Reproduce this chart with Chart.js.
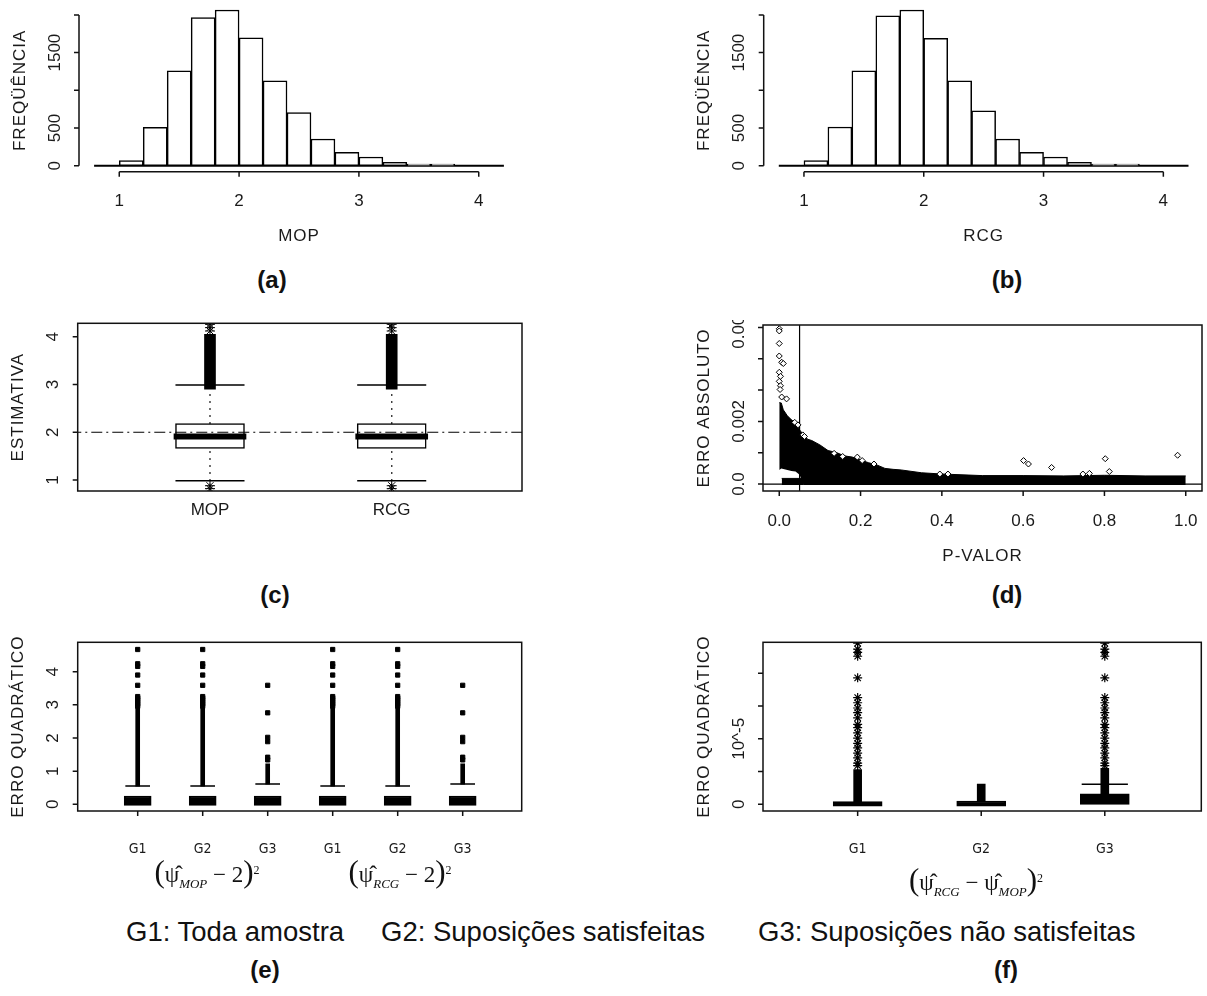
<!DOCTYPE html>
<html>
<head>
<meta charset="utf-8">
<title>MOP x RCG - histogramas, boxplots e erros</title>
<style>
  body { margin: 0; background: #fff; font-family: "Liberation Sans", Arial, sans-serif; color: #111; }
  #fig { position: relative; width: 1207px; height: 996px; overflow: hidden; }
  #fig canvas { position: absolute; }
  .txt { position: absolute; transform: translate(-50%, -50%); white-space: nowrap; }
  .letra { font-weight: bold; font-size: 24px; }
  .eq { font-family: "Liberation Serif", "Times New Roman", serif; font-size: 23px; }
  .eq .par { font-size: 31px; }
  .eq sub { font-size: 13px; font-style: italic; }
  .eq sup { font-size: 12px; }
  .leg { position: absolute; top: 932px; transform: translateY(-50%); font-size: 27.5px; white-space: nowrap; }
</style>
<script src="https://cdn.jsdelivr.net/npm/chart.js@4.4.0/dist/chart.umd.js"></script>
</head>
<body>
<div id="fig">
  <canvas id="ga"></canvas>
  <canvas id="gb"></canvas>
  <canvas id="gc"></canvas>
  <canvas id="gd"></canvas>
  <canvas id="ge"></canvas>
  <canvas id="gf"></canvas>

  <div class="txt letra" style="left:272px;top:280px">(a)</div>
  <div class="txt letra" style="left:1007px;top:280px">(b)</div>
  <div class="txt letra" style="left:275px;top:595px">(c)</div>
  <div class="txt letra" style="left:1007px;top:595px">(d)</div>
  <div class="txt letra" style="left:265px;top:970px">(e)</div>
  <div class="txt letra" style="left:1006px;top:970px">(f)</div>

  <div class="txt eq" style="left:207px;top:873px"><span class="par">(</span>&#968;&#770;<sub>MOP</sub> &minus; 2<span class="par">)</span><sup>2</sup></div>
  <div class="txt eq" style="left:400px;top:873px"><span class="par">(</span>&#968;&#770;<sub>RCG</sub> &minus; 2<span class="par">)</span><sup>2</sup></div>
  <div class="txt eq" style="left:976px;top:881px"><span class="par">(</span>&#968;&#770;<sub>RCG</sub> &minus; &#968;&#770;<sub>MOP</sub><span class="par">)</span><sup>2</sup></div>

  <div class="leg" style="left:126px">G1: Toda amostra</div>
  <div class="leg" style="left:381px">G2: Suposições satisfeitas</div>
  <div class="leg" style="left:758px">G3: Suposições não satisfeitas</div>
</div>

<script>
// (a) e (b) histogramas - classes de largura 0.2
const classesMeio = [1.1, 1.3, 1.5, 1.7, 1.9, 2.1, 2.3, 2.5, 2.7, 2.9, 3.1, 3.3, 3.5, 3.7];
const freqMOP = [66, 509, 1257, 1965, 2066, 1695, 1124, 704, 354, 177, 115, 44, 22, 20];
const freqRCG = [66, 513, 1257, 1987, 2066, 1690, 1124, 726, 354, 177, 115, 44, 22, 20];
const histTicksX = [1, 2, 3, 4];
const histTicksY = [0, 500, 1000, 1500, 2000];
const histLabelsY = ['0', '500', '', '1500', ''];
const histBase = [0.79, 4.21];

// (c) boxplot das estimativas
const estNomes = ['MOP', 'RCG'];
const estQ1 = [1.66, 1.66];
const estMed = [1.91, 1.91];
const estQ3 = [2.18, 2.18];
const estBigInf = [0.985, 0.985];
const estBigSup = [2.99, 2.99];
const estDenso = [[2.9, 4.05], [2.9, 4.05]];
const estOutSup = [4.12, 4.19, 4.26];
const estOutInf = [0.82, 0.88];
const estVerdadeiro = 2;

// (d) erro absoluto (x 10^-3) contra p-valor: contorno da nuvem densa e pontos isolados
const pValor = [0, 0.005, 0.01, 0.02, 0.03, 0.04, 0.05, 0.06, 0.07, 0.08, 0.10, 0.12, 0.14, 0.16, 0.18, 0.20, 0.22, 0.24, 0.26, 0.28, 0.30, 0.35, 0.40, 0.50, 0.60, 0.70, 0.80, 0.90, 1.00];
const erroTopo = [2.60, 2.59, 2.37, 2.18, 2.05, 1.95, 1.73, 1.57, 1.43, 1.39, 1.25, 1.07, 1.01, 0.90, 0.86, 0.77, 0.68, 0.61, 0.50, 0.47, 0.45, 0.36, 0.32, 0.27, 0.27, 0.26, 0.28, 0.26, 0.26];
const erroBase = [0.45, 0.50, 0.48, 0.45, 0.42, 0.40, 0.30, -0.03, -0.03, -0.03, -0.03, -0.03, -0.03, -0.03, -0.03, -0.03, -0.03, -0.03, -0.03, -0.03, -0.03, -0.03, -0.03, -0.03, -0.03, -0.03, -0.03, -0.03, -0.03];
const pFaixa = [0.006, 0.06];
const faixaTopo = [0.18, 0.18];
const faixaBase = [-0.03, -0.03];
const outP = [0, 0, 0, 0, 0.006, 0.01, 0, 0.003, 0, 0.003, 0.002, 0.006, 0.018, 0.038, 0.046, 0.058, 0.062, 0.135, 0.156, 0.192, 0.204, 0.233, 0.395, 0.415, 0.601, 0.613, 0.670, 0.747, 0.763, 0.802, 0.812, 0.980];
const outErro = [4.96, 4.89, 4.49, 4.09, 3.89, 3.85, 3.57, 3.44, 3.28, 3.14, 3.02, 2.78, 2.72, 1.97, 1.89, 1.57, 1.52, 0.98, 0.88, 0.86, 0.75, 0.64, 0.32, 0.32, 0.75, 0.64, 0.53, 0.32, 0.34, 0.81, 0.40, 0.92];
const pCorte = 0.05;
const dTicksX = [0, 0.2, 0.4, 0.6, 0.8, 1.0];
const dTicksY = [0, 1, 2, 3, 4, 5];
const dLabelsY = ['0.0', '', '0.002', '', '', '0.005'];

// (e) erro quadratico por grupo
const eGrupos = ['G1', 'G2', 'G3', 'G1', 'G2', 'G3'];
const eCaixaInf = [-0.03, -0.03, -0.03, -0.03, -0.03, -0.03];
const eCaixaSup = [0.25, 0.25, 0.25, 0.25, 0.25, 0.25];
const eBigode = [0.55, 0.55, 0.61, 0.55, 0.55, 0.61];
const eDensoSup = [2.92, 2.92, 1.22, 2.92, 2.92, 1.22];
const eOutG12 = [2.96, 3.02, 3.08, 3.14, 3.20, 3.25, 3.59, 3.90, 4.16, 4.24, 4.67];
const eOutG3 = [1.34, 1.42, 1.89, 2.02, 2.76, 3.59];
const eOut = [eOutG12, eOutG12, eOutG3, eOutG12, eOutG12, eOutG3];

// (f) diferenca quadratica (x 10^-5)
const fGrupos = ['G1', 'G2', 'G3'];
const fCaixaInf = [-0.3, -0.3, 0.0];
const fCaixaSup = [0.4, 0.5, 1.6];
const fDensoInf = [0.4, 0.5, 1.6];
const fDensoSup = [5.3, 3.1, 5.5];
const fBigodeG3 = 3.07;
const fOutG1 = [5.9, 6.3, 7.1, 7.8, 8.6, 9.3, 10.1, 10.9, 11.7, 12.2, 13.2, 14.0, 14.7, 15.5, 16.3, 19.3, 22.6, 23.2, 23.7, 24.6];
const fOutG3 = [5.9, 6.3, 7.1, 7.8, 8.6, 9.3, 10.1, 10.9, 11.7, 12.2, 13.2, 14.0, 14.7, 15.5, 16.3, 19.3, 22.6, 23.2, 23.7, 24.6];
const fOut = [fOutG1, [], fOutG3];

const fonteR = '17px "Liberation Sans", Arial, sans-serif';
const fonteG = '14px "Liberation Sans Narrow", "DejaVu Sans Condensed", sans-serif';

// eixos no estilo do R: linha so entre o primeiro e o ultimo tick, rotulos do y girados
const eixosR = {
  id: 'eixosR',
  afterDatasetsDraw(chart, args, o) {
    const { ctx, chartArea: ca, scales: { x, y } } = chart;
    ctx.save();
    ctx.lineWidth = 1.5;
    ctx.strokeStyle = '#111';
    ctx.fillStyle = '#1a1a1a';
    if (o.moldura) ctx.strokeRect(ca.left, ca.top, ca.right - ca.left, ca.bottom - ca.top);

    const xs = o.xTicks.map(v => x.getPixelForValue(v));
    const ys = o.yTicks.map(v => y.getPixelForValue(v));
    const tx = o.xTickLen ?? 5;
    ctx.beginPath();
    if (!o.moldura) {
      ctx.moveTo(xs[0], ca.bottom); ctx.lineTo(xs[xs.length - 1], ca.bottom);
      ctx.moveTo(ca.left, ys[0]); ctx.lineTo(ca.left, ys[ys.length - 1]);
    }
    xs.forEach(px => { ctx.moveTo(px, ca.bottom); ctx.lineTo(px, ca.bottom + tx); });
    ys.forEach(py => { ctx.moveTo(ca.left, py); ctx.lineTo(ca.left - 5, py); });
    ctx.stroke();

    ctx.textAlign = 'center';
    ctx.textBaseline = 'middle';
    ctx.font = o.xFont || fonteR;
    o.xLabels.forEach((t, i) => { if (t) ctx.fillText(t, xs[i], ca.bottom + o.xGap); });
    ctx.font = fonteR;
    ctx.letterSpacing = '1px';
    if (o.xTitle) ctx.fillText(o.xTitle, (ca.left + ca.right) / 2, ca.bottom + 65);
    const girado = (t, px, py) => {
      ctx.save(); ctx.translate(px, py); ctx.rotate(-Math.PI / 2); ctx.fillText(t, 0, 0); ctx.restore();
    };
    if (o.yTitle) girado(o.yTitle, ca.left - 59, (ca.top + ca.bottom) / 2);
    ctx.letterSpacing = '0px';
    o.yLabels.forEach((t, i) => { if (t) girado(t, ca.left - 24, ys[i]); });
    ctx.restore();
  }
};

function painel(id, caixa, area, lim, datasets, eixos, tipo) {
  const cv = document.getElementById(id);
  cv.width = caixa[2];
  cv.height = caixa[3];
  cv.style.left = caixa[0] + 'px';
  cv.style.top = caixa[1] + 'px';
  return new Chart(cv, {
    type: tipo || 'bar',
    data: { datasets },
    options: {
      responsive: false,
      animation: false,
      events: [],
      layout: {
        padding: {
          left: area[0] - caixa[0], top: area[1] - caixa[1],
          right: caixa[0] + caixa[2] - area[2], bottom: caixa[1] + caixa[3] - area[3]
        }
      },
      scales: {
        x: { type: 'linear', display: false, offset: false, min: lim.x[0], max: lim.x[1] },
        y: { type: 'linear', display: false, min: lim.y[0], max: lim.y[1] }
      },
      plugins: { legend: { display: false }, tooltip: { enabled: false }, eixosR: eixos }
    },
    plugins: [eixosR]
  });
}

const linha = (pts, extra) => Object.assign({
  type: 'line', data: pts, borderColor: '#000', borderWidth: 1.5,
  pointRadius: 0, fill: false, spanGaps: false, tension: 0
}, extra);
const pontos = (pts, estilo, r, extra) => Object.assign({
  type: 'scatter', data: pts, showLine: false, pointStyle: estilo, pointRadius: r,
  pointBorderColor: '#000', pointBackgroundColor: '#000', pointBorderWidth: 1
}, extra);
const barras = (pts, larg, cor, extra) => Object.assign({
  type: 'bar', data: pts, grouped: false, barThickness: larg, backgroundColor: cor,
  borderColor: '#000', borderWidth: 1.5, borderSkipped: false
}, extra);
const segmentos = (pos, meia, valores) => {
  const out = [];
  pos.forEach((p, i) => { out.push({ x: p - meia, y: valores[i] }, { x: p + meia, y: valores[i] }, { x: p, y: null }); });
  return out;
};
const verticais = (pos, de, ate) => {
  const out = [];
  pos.forEach((p, i) => { out.push({ x: p, y: de[i] }, { x: p, y: ate[i] }, { x: p, y: null }); });
  return out;
};
const espalhar = (pos, listas) => pos.flatMap((p, i) => listas[i].map(v => ({ x: p, y: v })));

// ---- (a) e (b)
function histograma(id, caixa, area, freq, titulo) {
  painel(id, caixa, area, { x: [0.664, 4.336], y: [-80, 2080] }, [
    {
      type: 'bar', data: classesMeio.map((m, i) => ({ x: m, y: freq[i] })),
      backgroundColor: '#fff', borderColor: '#000', borderWidth: 1.5, borderSkipped: false,
      barPercentage: 1, categoryPercentage: 1
    },
    linha([{ x: histBase[0], y: 0 }, { x: histBase[1], y: 0 }], { borderWidth: 2 })
  ], {
    moldura: false, xTicks: histTicksX, xLabels: histTicksX.map(String), xGap: 30, xTitle: titulo,
    yTicks: histTicksY, yLabels: histLabelsY, yTitle: 'FREQÜÊNCIA'
  });
}
histograma('ga', [0, 0, 600, 262], [79, 8.9, 519, 171.7], freqMOP, 'MOP');
histograma('gb', [603, 0, 604, 262], [763.7, 8.9, 1203.6, 171.7], freqRCG, 'RCG');

// ---- (c)
const posC = estNomes.map((_, i) => i + 1);
painel('gc', [0, 300, 600, 240], [77.7, 323.3, 522, 491], { x: [0.272, 2.717], y: [0.77, 4.281] }, [
  linha([{ x: 0, y: estVerdadeiro }, { x: 3, y: estVerdadeiro }], { borderDash: [11, 4, 2, 4], borderWidth: 1.2 }),
  linha(segmentos(posC, 0.2, estMed), { borderWidth: 6 }),
  barras(posC.map((p, i) => ({ x: p, y: [estQ1[i], estQ3[i]] })), 69, '#fff'),
  pontos(espalhar(posC, posC.map(() => estOutSup.concat(estOutInf))), 'star', 5),
  barras(posC.map((p, i) => ({ x: p, y: estDenso[i] })), 11, '#000', { borderWidth: 0 }),
  linha(segmentos(posC, 0.19, estBigInf).concat(segmentos(posC, 0.19, estBigSup))),
  linha(verticais(posC, estQ3, estBigSup).concat(verticais(posC, estBigInf, estQ1)), { borderDash: [1.5, 5.5] })
], {
  moldura: true, xTicks: posC, xLabels: estNomes, xGap: 19, xTickLen: 0,
  yTicks: [1, 2, 3, 4], yLabels: ['1', '2', '3', '4'], yTitle: 'ESTIMATIVA'
});

// ---- (d)
painel('gd', [603, 320, 604, 250], [763, 324, 1206, 491], { x: [-0.04, 1.04], y: [-0.222, 5.08] }, [
  pontos(outP.map((p, i) => ({ x: p, y: outErro[i] })), 'rectRot', 3, { pointBackgroundColor: '#fff' }),
  linha([{ x: pCorte, y: -1 }, { x: pCorte, y: 10 }], { borderWidth: 1.2 }),
  linha([{ x: -1, y: 0 }, { x: 2, y: 0 }], { borderWidth: 1.2 }),
  linha(pValor.map((p, i) => ({ x: p, y: erroTopo[i] })), { fill: '+1', backgroundColor: '#000', borderWidth: 1 }),
  linha(pValor.map((p, i) => ({ x: p, y: erroBase[i] })), { borderWidth: 0 }),
  linha(pFaixa.map((p, i) => ({ x: p, y: faixaTopo[i] })), { fill: '+1', backgroundColor: '#000', borderWidth: 1 }),
  linha(pFaixa.map((p, i) => ({ x: p, y: faixaBase[i] })), { borderWidth: 0 })
], {
  moldura: true, xTicks: dTicksX, xLabels: dTicksX.map(v => v.toFixed(1)), xGap: 30, xTitle: 'P-VALOR',
  yTicks: dTicksY, yLabels: dLabelsY, yTitle: 'ERRO ABSOLUTO'
}, 'scatter');

// ---- (e)
const posE = eGrupos.map((_, i) => i + 1);
painel('ge', [0, 620, 600, 250], [77.7, 642.3, 521.7, 811], { x: [0.077, 6.908], y: [-0.202, 4.887] }, [
  pontos(espalhar(posE, eOut), 'rect', 3),
  barras(posE.map((p, i) => ({ x: p, y: [eCaixaInf[i], eCaixaSup[i]] })), 27, '#000'),
  barras(posE.map((p, i) => ({ x: p, y: [eBigode[i], eDensoSup[i]] })), 4, '#000', { borderWidth: 0 }),
  linha(segmentos(posE, 0.19, eBigode))
], {
  moldura: true, xTicks: posE, xLabels: eGrupos, xGap: 38, xFont: fonteG,
  yTicks: [0, 1, 2, 3, 4], yLabels: ['0', '1', '2', '3', '4'], yTitle: 'ERRO QUADRÁTICO'
});

// ---- (f)
const posF = fGrupos.map((_, i) => i + 1);
painel('gf', [603, 620, 604, 250], [763, 642.3, 1206.3, 811], { x: [0.234, 3.781], y: [-1.02, 24.73] }, [
  pontos(espalhar(posF, fOut), 'star', 4.5, { pointBorderWidth: 1.2 }),
  barras(posF.map((p, i) => ({ x: p, y: [fCaixaInf[i], fCaixaSup[i]] })), 49, '#000'),
  barras(posF.map((p, i) => ({ x: p, y: [fDensoInf[i], fDensoSup[i]] })), 8, '#000', { borderWidth: 0 }),
  linha(segmentos([3], 0.187, [fBigodeG3]))
], {
  moldura: true, xTicks: posF, xLabels: fGrupos, xGap: 38, xFont: fonteG,
  yTicks: [0, 5, 10, 15, 20], yLabels: ['0', '', '10^-5', '', ''], yTitle: 'ERRO QUADRÁTICO'
});
</script>
</body>
</html>
